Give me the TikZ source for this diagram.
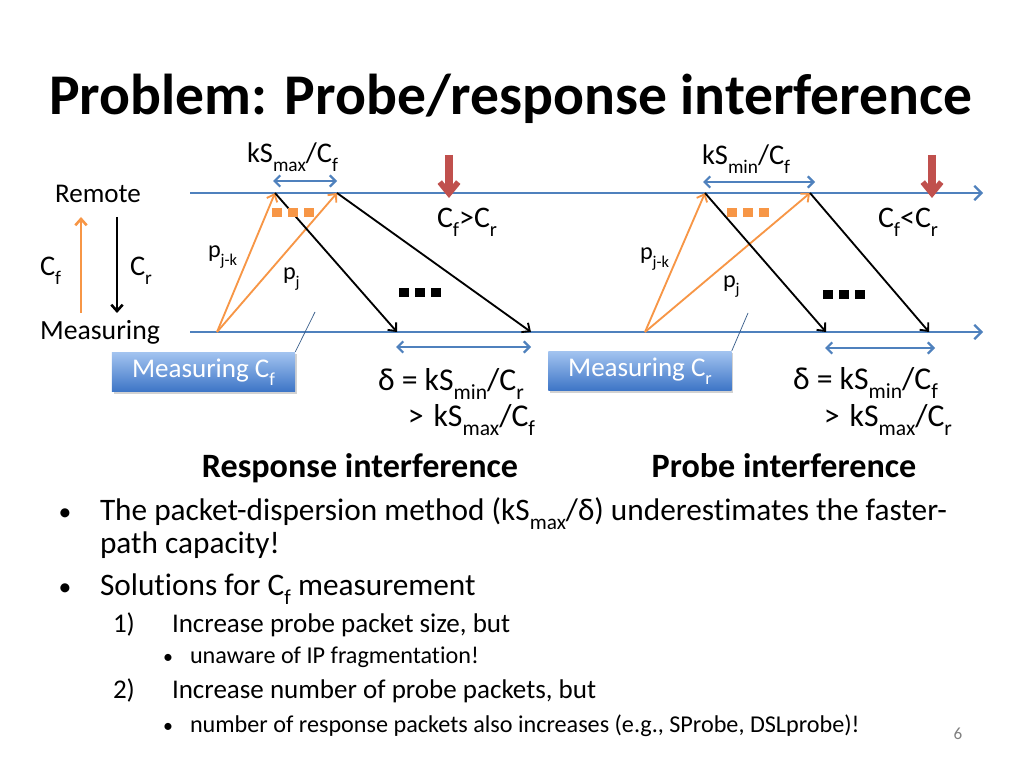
\documentclass[tikz,border=0pt]{standalone}
\usepackage{fontspec}
\setmainfont{Carlito}[Ligatures=NoCommon]
\usetikzlibrary{arrows.meta,shadows}
\definecolor{lblue}{HTML}{4F81BD}
\definecolor{orng}{HTML}{F79646}
\definecolor{rred}{HTML}{C0504D}
\definecolor{btop}{HTML}{A3C4F0}
\definecolor{bbot}{HTML}{3C74C6}
\definecolor{cline}{HTML}{385D8A}
\newcommand\dn[1]{\raisebox{-0.3em}{\scalebox{0.68}{#1}}}
\newcommand\fs[1]{\fontsize{#1}{1.2\dimexpr#1\relax}\selectfont}
\begin{document}
\begin{tikzpicture}[x=0.703125pt,y=-0.703125pt,
  txt/.style={inner sep=0pt,outer sep=0pt,text=black},
  tline/.style={lblue,line width=1.6pt,-{Straight Barb[length=5pt,width=10pt]}},
  darr/.style={lblue,line width=1.6pt,{Straight Barb[length=4pt,width=8pt]}-{Straight Barb[length=4pt,width=8pt]}},
  oarr/.style={orng,line width=1.3pt,-{Straight Barb[length=4.5pt,width=8pt]}},
  karr/.style={black,line width=1.3pt,-{Straight Barb[length=4.5pt,width=8pt]}},
  rarr/.style={rred,line width=5.5pt,-{Straight Barb[length=8pt,width=13pt,line width=4pt]}},
  mbox/.style={inner sep=0pt,minimum width=128.7pt,minimum height=28pt,
    top color=btop,bottom color=bbot,draw=none,text=white,
    drop shadow={shadow xshift=1.2pt,shadow yshift=-1.2pt,opacity=0.35}},
  callout/.style={cline,line width=0.5pt},
  ]
\useasboundingbox[fill=white] (0,0) rectangle (1024,768);

% title
\node[txt,anchor=base] (title) at (511,115) {\fs{40.5pt}\bfseries Problem: Probe/response interference};

% timelines
\coordinate (t0) at (190,193); \coordinate (t1) at (983,193);
\coordinate (u0) at (190,332); \coordinate (u1) at (983,332);
\draw[tline] (t0) -- (t1);
\draw[tline] (u0) -- (u1);

% left side labels
\node[txt,anchor=base] (remote) at (98,203) {\fs{19pt}Remote};
\node[txt,anchor=base] (meas) at (100,340) {\fs{19.5pt}Measuring};
\coordinate (ou0) at (81,313); \coordinate (ou1) at (81,217);
\coordinate (kd0) at (117,217); \coordinate (kd1) at (117,313);
\draw[oarr,line width=1.8pt] (ou0) -- (ou1);
\draw[karr,line width=1.8pt] (kd0) -- (kd1);
\node[txt,anchor=base west] (cfl) at (40,276) {\fs{20pt}C\dn{f}};
\node[txt,anchor=base west] (crl) at (130,276) {\fs{20pt}C\dn{r}};

% ---------- left diagram (response interference)
\coordinate (la) at (217,332);
\coordinate (lb1) at (275,193); \coordinate (lb2) at (337,193);
\coordinate (lc1) at (397,332); \coordinate (lc2) at (531,332);
\draw[oarr] (la) -- (lb1);
\draw[oarr] (la) -- (lb2);
\draw[karr] (lb1) -- (lc1);
\draw[karr] (lb2) -- (lc2);
\coordinate (ld0) at (273,181); \coordinate (ld1) at (337,181);
\draw[darr] (ld0) -- (ld1);
\coordinate (le0) at (396,347); \coordinate (le1) at (531,347);
\draw[darr] (le0) -- (le1);
\foreach \x in {272,288,304} \fill[orng] (\x,208) rectangle ++(9.5,9);
\foreach \x in {399,415,431} \fill[black] (\x,288) rectangle ++(9.5,9);
\coordinate (lr0) at (449,155); \coordinate (lr1) at (449,198);
\draw[rarr] (lr0) -- (lr1);
\node[txt,anchor=base west] (lks) at (247,163) {\fs{20pt}kS\dn{max}/C\dn{f}};
\node[txt,anchor=base west] (lcmp) at (437,228) {\fs{21pt}C\dn{f}>C\dn{r}};
\node[txt,anchor=base west] (lpjk) at (208,258) {\fs{17pt}p\dn{j-k}};
\node[txt,anchor=base west] (lpj) at (283,280) {\fs{17pt}p\dn{j}};
\node[txt,anchor=base west] (ld1t) at (378,390) {\fs{22.3pt}δ = kS\dn{min}/C\dn{r}};
\node[txt,anchor=base east] (ld2t) at (535,426) {\fs{22.3pt}>\hspace{7pt}kS\dn{max}/C\dn{f}};
\node[mbox] (mf) at (203.5,372) {\raisebox{-2pt}{\fs{19pt}Measuring C\dn{f}}};
\coordinate (lcall) at (315,312);
\draw[callout] (mf.north east) -- (lcall);

% ---------- right diagram (probe interference)
\coordinate (ra) at (645,332);
\coordinate (rb1) at (705,193); \coordinate (rb2) at (810,193);
\coordinate (rc1) at (826,332); \coordinate (rc2) at (929,332);
\draw[oarr] (ra) -- (rb1);
\draw[oarr] (ra) -- (rb2);
\draw[karr] (rb1) -- (rc1);
\draw[karr] (rb2) -- (rc2);
\coordinate (rd0) at (703,182); \coordinate (rd1) at (815,182);
\draw[darr] (rd0) -- (rd1);
\coordinate (re0) at (825,348); \coordinate (re1) at (935,348);
\draw[darr] (re0) -- (re1);
\foreach \x in {727,743,759} \fill[orng] (\x,208) rectangle ++(9.5,9);
\foreach \x in {823,839,855} \fill[black] (\x,290) rectangle ++(9.5,9);
\coordinate (rr0) at (932,155); \coordinate (rr1) at (932,198);
\draw[rarr] (rr0) -- (rr1);
\node[txt,anchor=base west] (rks) at (702,165) {\fs{20pt}kS\dn{min}/C\dn{f}};
\node[txt,anchor=base west] (rcmp) at (878,228) {\fs{21pt}C\dn{f}<C\dn{r}};
\node[txt,anchor=base west] (rpjk) at (640,260) {\fs{17pt}p\dn{j-k}};
\node[txt,anchor=base west] (rpj) at (723,287) {\fs{17pt}p\dn{j}};
\node[txt,anchor=base west] (rd1t) at (793,389) {\fs{22.3pt}δ = kS\dn{min}/C\dn{f}};
\node[txt,anchor=base east] (rd2t) at (952,426) {\fs{22.3pt}>\hspace{7pt}kS\dn{max}/C\dn{r}};
\node[mbox] (mr) at (640,371) {\raisebox{-2pt}{\fs{19pt}Measuring C\dn{r}}};
\coordinate (rcall) at (748,313);
\draw[callout] (mr.north east) -- (rcall);

% headings
\node[txt,anchor=base] (h1) at (360,477) {\fs{24pt}\bfseries Response interference};
\node[txt,anchor=base] (h2) at (784,477) {\fs{24pt}\bfseries Probe interference};

% body
\node[txt,anchor=base] (b1) at (65,520) {\fs{18pt}•};
\node[txt,anchor=base west] (l1) at (100,520) {\fs{22pt}The packet-dispersion method (kS\dn{max}/δ) underestimates the faster-};
\node[txt,anchor=base west] (l2) at (100,553) {\fs{22pt}path capacity!};
\node[txt,anchor=base] (b2) at (65,595) {\fs{18pt}•};
\node[txt,anchor=base west] (l3) at (100,595) {\fs{22pt}Solutions for C\dn{f} measurement};
\node[txt,anchor=base west] (n1) at (113,632) {\fs{19pt}1)};
\node[txt,anchor=base west] (l4) at (172,632) {\fs{19pt}Increase probe packet size, but};
\node[txt,anchor=base] (b3) at (168,663) {\fs{14pt}•};
\node[txt,anchor=base west] (l5) at (190,663) {\fs{17pt}unaware of IP fragmentation!};
\node[txt,anchor=base west] (n2) at (113,698) {\fs{19pt}2)};
\node[txt,anchor=base west] (l6) at (172,698) {\fs{19pt}Increase number of probe packets, but};
\node[txt,anchor=base] (b4) at (168,732) {\fs{14pt}•};
\node[txt,anchor=base west] (l7) at (190,732) {\fs{17pt}number of response packets also increases (e.g., SProbe, DSLprobe)!};
\node[txt,anchor=base,text=gray] (pg) at (958,739) {\fs{12pt}6};
\end{tikzpicture}
\end{document}
